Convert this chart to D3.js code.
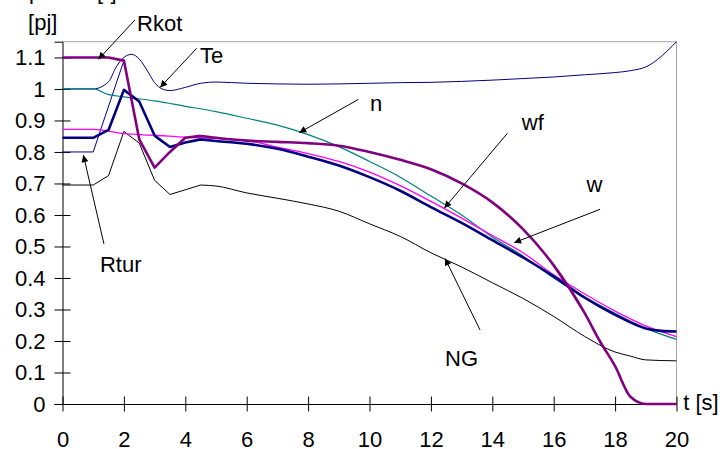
<!DOCTYPE html>
<html>
<head>
<meta charset="utf-8">
<script src="https://cdn.jsdelivr.net/npm/d3@7"></script>
<style>
  body { margin: 0; background: #fff; }
  text { font-family: "Liberation Sans", Arial, sans-serif; fill: #000; }
</style>
</head>
<body>
<div id="chart"></div>
<script>
// values
var tRkot = [0, 1, 1.5, 2, 2.5, 3, 3.5, 4, 4.5, 5, 6, 7, 8, 9, 10, 11, 12, 13, 14, 15, 16, 17, 17.5, 18, 18.5, 19, 20]
var vRkot = [1.1, 1.1, 1.1, 1.09, 0.84, 0.75, 0.8, 0.845, 0.851, 0.845, 0.836, 0.832, 0.828, 0.82, 0.8, 0.775, 0.745, 0.7, 0.64, 0.555, 0.44, 0.29, 0.2, 0.12, 0.023, 0, 0]

var tRtur = [0, 1, 2]
var vRtur = [0.8, 0.8, 1.09]

var tTe = [0, 0.5, 1, 1.5, 1.75, 2, 2.25, 2.5, 2.75, 3, 3.25, 3.5, 4, 4.5, 5, 6, 7, 8, 9, 10, 11, 12, 13, 14, 15, 16, 17, 18, 18.5, 19, 20]
var vTe = [1, 1, 1, 1.023, 1.07, 1.1, 1.11, 1.095, 1.06, 1.02, 1.0, 0.995, 1.005, 1.018, 1.022, 1.018, 1.016, 1.015, 1.016, 1.018, 1.02, 1.021, 1.024, 1.028, 1.033, 1.038, 1.045, 1.052, 1.058, 1.07, 1.15]

var tN = [0, 1, 1.5, 2, 3, 4, 5, 6, 7, 8, 9, 10, 11, 12, 13, 14, 15, 16, 17, 18, 19, 20]
var vN = [1, 1, 0.982, 0.975, 0.962, 0.945, 0.928, 0.907, 0.885, 0.855, 0.817, 0.77, 0.72, 0.66, 0.6, 0.53, 0.47, 0.4, 0.34, 0.288, 0.24, 0.205]

var tW = [0, 1, 2, 3, 4, 5, 6, 7, 8, 9, 10, 11, 12, 13, 14, 15, 16, 17, 18, 19, 20]
var vW = [0.872, 0.872, 0.858, 0.853, 0.847, 0.843, 0.837, 0.815, 0.795, 0.77, 0.736, 0.693, 0.643, 0.59, 0.535, 0.48, 0.41, 0.35, 0.295, 0.248, 0.214]

var tWf = [0, 1, 1.5, 2, 2.5, 3, 3.5, 4, 4.5, 5, 6, 7, 8, 9, 10, 11, 12, 13, 14, 15, 16, 17, 18, 19, 19.5, 20]
var vWf = [0.845, 0.845, 0.87, 0.997, 0.96, 0.852, 0.816, 0.83, 0.84, 0.835, 0.826, 0.81, 0.785, 0.757, 0.72, 0.677, 0.625, 0.575, 0.52, 0.465, 0.405, 0.338, 0.283, 0.24, 0.232, 0.23]

var tNG = [0, 1, 1.5, 2, 2.5, 3, 3.5, 4, 4.5, 5, 6, 7, 8, 9, 10, 11, 12, 13, 14, 15, 16, 17, 18, 18.5, 19, 20]
var vNG = [0.695, 0.695, 0.725, 0.865, 0.828, 0.71, 0.665, 0.68, 0.695, 0.692, 0.67, 0.653, 0.635, 0.612, 0.572, 0.532, 0.48, 0.435, 0.385, 0.335, 0.278, 0.215, 0.165, 0.152, 0.14, 0.137]

var xTicks = [0, 2, 4, 6, 8, 10, 12, 14, 16, 18, 20]
var yTicks = [0, 0.1, 0.2, 0.3, 0.4, 0.5, 0.6, 0.7, 0.8, 0.9, 1, 1.1]
var yTickLabels = ["0", "0.1", "0.2", "0.3", "0.4", "0.5", "0.6", "0.7", "0.8", "0.9", "1", "1.1"]

// label text, text anchor point and arrow (from -> tip), in data units
var noteNames = ["Rkot", "Te", "n", "wf", "w", "Rtur", "NG"]
var noteText = [[2.43, 1.183], [4.48, 1.082], [10.02, 0.931], [14.96, 0.87], [17.07, 0.674], [1.22, 0.42], [12.46, 0.121]]
var noteFrom = [[2.36, 1.219], [4.37, 1.129], [9.64, 0.967], [14.49, 0.859], [17.51, 0.618], [1.35, 0.508], [13.6, 0.235]]
var noteTip = [[1.17, 1.094], [3.18, 1.005], [7.71, 0.861], [12.44, 0.622], [14.71, 0.512], [0.68, 0.79], [12.46, 0.462]]

const W = 723, H = 449
const margin = {top: 41.7, right: 46.5, bottom: 45, left: 62.5}

var svg = d3.select("#chart").append("svg")
  .attr("width", W).attr("height", H)

var x = d3.scaleLinear().domain([0, 20]).range([margin.left, W - margin.right])
var y = d3.scaleLinear().domain([0, 1.15]).range([H - margin.bottom, margin.top])

// frame: light top and right edges
svg.append("path")
  .attr("d", "M" + x(0) + "," + y(1.15) + "H" + x(20) + "V" + y(0))
  .attr("fill", "none").attr("stroke", "#a6a6a6").attr("stroke-width", 1)

// y axis
var gy = svg.append("g")
  .attr("transform", "translate(" + x(0) + ",0)")
  .call(d3.axisLeft(y).tickValues(yTicks).tickSize(8).tickPadding(10)
    .tickFormat(function(d, i) { return yTickLabels[i] }))
gy.select(".domain").attr("stroke", "#000")
gy.selectAll(".tick line").attr("x1", 8).attr("x2", -8).attr("stroke", "#000")
gy.selectAll(".tick text").attr("font-size", 22).attr("x", -17)
  .style("font-family", "Liberation Sans, Arial, sans-serif")

// x axis
var gx = svg.append("g")
  .attr("transform", "translate(0," + y(0) + ")")
  .call(d3.axisBottom(x).tickValues(xTicks).tickSize(7.5).tickSizeOuter(0))
gx.select(".domain").attr("stroke", "#000")
gx.selectAll(".tick line").attr("y1", -7.5).attr("y2", 7.5).attr("stroke", "#000")
gx.selectAll(".tick text").attr("font-size", 22).attr("y", 27).attr("dy", "0.71em")
  .style("font-family", "Liberation Sans, Arial, sans-serif")

// series: straight segments in the transient, smoothed afterwards (from t = split)
function zip(ts, vs) { return ts.map(function(t, i) { return [t, vs[i]] }) }

var series = [
  {pts: zip(tNG, vNG), color: "#000000", width: 1, split: 4.5},
  {pts: zip(tRtur, vRtur), color: "#000080", width: 1, split: 99},
  {pts: zip(tTe, vTe), color: "#000080", width: 1, split: 0},
  {pts: zip(tN, vN), color: "#008080", width: 1.2, split: 0},
  {pts: zip(tW, vW), color: "#ff00ff", width: 1.3, split: 0},
  {pts: zip(tWf, vWf), color: "#000080", width: 2.6, split: 4.5},
  {pts: zip(tRkot, vRkot), color: "#800080", width: 2.6, split: 4.5}
]

series.forEach(function(s) {
  var straight = d3.line()
    .x(function(d) { return x(d[0]) })
    .y(function(d) { return y(d[1]) })
  var smooth = d3.line()
    .x(function(d) { return x(d[0]) })
    .y(function(d) { return y(d[1]) })
    .curve(d3.curveMonotoneX)
  var head = s.pts.filter(function(d) { return d[0] <= s.split })
  var tail = s.pts.filter(function(d) { return d[0] >= s.split })
  var d = ""
  if (head.length > 1) d += straight(head)
  if (tail.length > 1) d += smooth(tail)
  svg.append("path")
    .attr("d", d)
    .attr("fill", "none")
    .attr("stroke", s.color)
    .attr("stroke-width", s.width)
    .attr("stroke-linejoin", "round")
})

// arrow head
svg.append("defs").append("marker")
  .attr("id", "head")
  .attr("viewBox", "0 0 10 10")
  .attr("refX", 10).attr("refY", 5)
  .attr("markerWidth", 9).attr("markerHeight", 7)
  .attr("markerUnits", "userSpaceOnUse")
  .attr("orient", "auto")
  .append("path").attr("d", "M0,0L10,5L0,10z").attr("fill", "#000")

noteNames.forEach(function(name, i) {
  svg.append("line")
    .attr("x1", x(noteFrom[i][0])).attr("y1", y(noteFrom[i][1]))
    .attr("x2", x(noteTip[i][0])).attr("y2", y(noteTip[i][1]))
    .attr("stroke", "#000").attr("stroke-width", 1)
    .attr("marker-end", "url(#head)")
  svg.append("text")
    .attr("x", x(noteText[i][0])).attr("y", y(noteText[i][1]))
    .attr("font-size", 22)
    .text(name)
})

// axis titles
svg.append("text").attr("x", x(-1.12)).attr("y", y(1.186)).attr("font-size", 22).text("[pj]")
svg.append("text").attr("x", x(20.22)).attr("y", y(-0.019)).attr("font-size", 22).text("t [s]")

// clipped text at the very top
svg.append("text").attr("x", 29).attr("y", -1).attr("font-size", 22).text("p")
svg.append("text").attr("x", 97).attr("y", -1).attr("font-size", 22).text("[-]")
</script>
</body>
</html>
